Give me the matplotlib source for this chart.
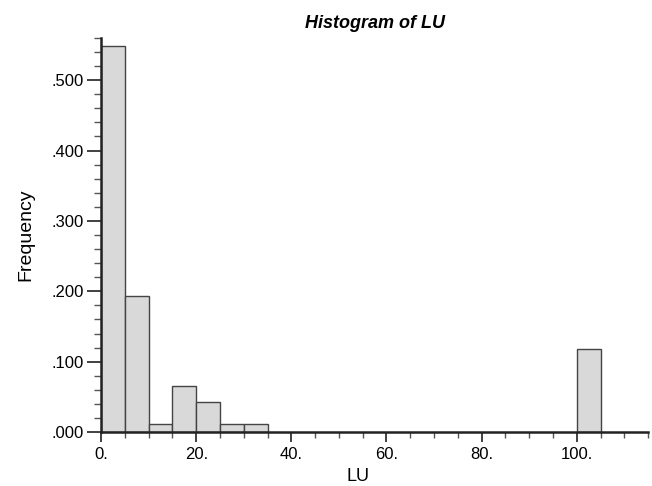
import matplotlib.pyplot as plt
from matplotlib.ticker import MultipleLocator, FuncFormatter

plt.rcParams['font.family'] = ['Liberation Sans', 'DejaVu Sans']

# histogram bins of LU (left edges, width 5) and relative frequencies
bin_left = [0, 5, 10, 15, 20, 25, 30, 100]
freq = [0.548, 0.194, 0.011, 0.065, 0.043, 0.011, 0.011, 0.118]
bin_width = 5

fig = plt.figure(figsize=(6.52, 4.86), dpi=100)
ax = fig.add_axes([0.155, 0.111, 0.839, 0.811])

ax.bar(bin_left, freq, width=bin_width, align='edge',
       color='#d9d9d9', edgecolor='#444444', linewidth=1.0)

ax.set_xlim(0, 115)
ax.set_ylim(0, 0.56)

for side in ['top', 'right']:
    ax.spines[side].set_visible(False)
for side in ['left', 'bottom']:
    ax.spines[side].set_linewidth(1.8)
    ax.spines[side].set_color('#222222')

ax.xaxis.set_major_locator(MultipleLocator(20))
ax.xaxis.set_minor_locator(MultipleLocator(5))
ax.yaxis.set_major_locator(MultipleLocator(0.1))
ax.yaxis.set_minor_locator(MultipleLocator(0.02))

ax.xaxis.set_major_formatter(FuncFormatter(lambda v, p: '%d.' % round(v)))
ax.yaxis.set_major_formatter(FuncFormatter(lambda v, p: ('%.3f' % v)[1:]))

ax.tick_params(axis='y', which='major', length=10, width=1.3, pad=2.5, labelsize=12, color='#333333')
ax.tick_params(axis='y', which='minor', length=5, width=1.0, color='#555555')
ax.tick_params(axis='x', which='major', length=7, width=1.3, pad=4, labelsize=12, color='#333333')
ax.tick_params(axis='x', which='minor', length=4, width=1.0, color='#555555')

ax.set_title('Histogram of LU', fontsize=13, fontweight='bold', fontstyle='italic', pad=7)
ax.set_xlabel('LU', fontsize=13)
ax.set_ylabel('Frequency', fontsize=14, labelpad=12)
ax.xaxis.set_label_coords(0.47, -0.09)

fig.savefig('out.png', dpi=100)
